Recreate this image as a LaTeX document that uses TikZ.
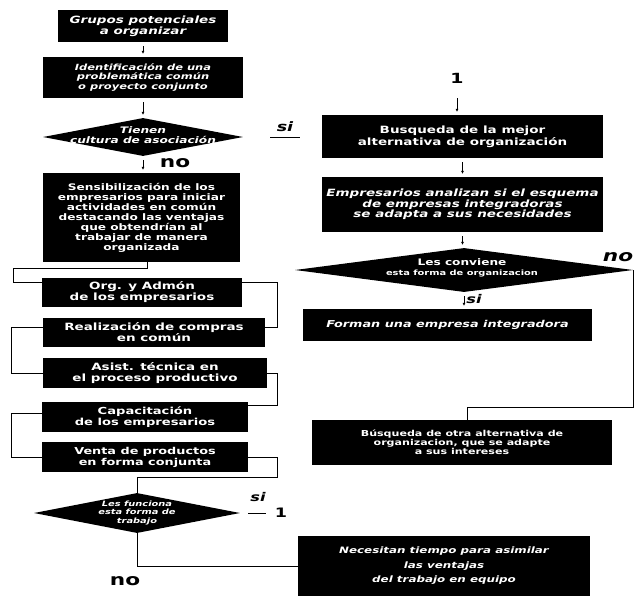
\documentclass[tikz,border=0pt]{standalone}
\usepackage{fontspec}
\setmainfont{DejaVu Sans}[FakeStretch=1.35]
\usetikzlibrary{shapes.geometric,arrows.meta,calc}
\newcommand{\fsz}[2]{\fontsize{#1}{#2}\selectfont\bfseries}
\begin{document}
\begin{tikzpicture}[x=1pt,y=-1pt,
  blk/.style={fill=black,text=white,inner sep=0pt,align=center},
  dia/.style={diamond,fill=black,inner sep=0pt},
  dtxt/.style={text=white,align=center,inner sep=0pt},
  lbl/.style={inner sep=0pt,font=\fsz{16}{16}},
  slbl/.style={inner sep=0pt,font=\fsz{12}{12}\itshape},
  lnk/.style={line width=0.7pt},
  sarr/.style={line width=0.6pt,-{Latex[length=3pt,width=3pt]},shorten <=4pt,shorten >=3pt}]
\useasboundingbox (0,0) rectangle (636,597);
\fill[white] (0,0) rectangle (636,597);
% left column
\node[blk,minimum width=170pt,minimum height=32pt,font=\fsz{10}{11}\itshape] (b1) at (143,26) {Grupos potenciales\\a organizar};
\node[blk,minimum width=200pt,minimum height=41pt,font=\fsz{8.5}{9.5}\itshape] (b2) at (143,77.5) {Identificación de una\\problemática común\\o proyecto conjunto};
\node[dia,minimum width=200pt,minimum height=38pt] (d1) at (143,137) {};
\node[dtxt,font=\fsz{9}{10}\itshape] (d1t) at (143,135) {Tienen\\cultura de asociación};
\node[blk,minimum width=197pt,minimum height=89pt,font=\fsz{9}{10}] (sens) at (141.5,217.5) {Sensibilización de los\\empresarios para iniciar\\actividades en común\\destacando las ventajas\\que obtendrían al\\trabajar de manera\\organizada};
\node[blk,minimum width=200pt,minimum height=29pt,font=\fsz{10}{11}] (org) at (142,292.5) {Org. y Admón\\de los empresarios};
\node[blk,minimum width=222pt,minimum height=29pt,font=\fsz{10}{11}] (real) at (154,332.5) {Realización de compras\\en común};
\node[blk,minimum width=224pt,minimum height=30pt,font=\fsz{10}{11}] (asist) at (155,373) {Asist. técnica en\\el proceso productivo};
\node[blk,minimum width=206pt,minimum height=30pt,font=\fsz{9.7}{11}] (cap) at (145,417) {Capacitación\\de los empresarios};
\node[blk,minimum width=206pt,minimum height=30pt,font=\fsz{9.5}{11}] (venta) at (145,457) {Venta de productos\\en forma conjunta};
\node[dia,minimum width=206pt,minimum height=40pt] (d2) at (137,513) {};
\node[dtxt,font=\fsz{7.3}{8.3}\itshape] (d2t) at (137,513) {Les funciona\\esta forma de\\trabajo};
% right column
\node[inner sep=0pt,font=\fsz{14}{14}] (one1) at (457,78) {1};
\node[blk,minimum width=281pt,minimum height=43pt,font=\fsz{10}{12}] (bm) at (462.5,136.5) {Busqueda de la mejor\\alternativa de organización};
\node[blk,minimum width=281pt,minimum height=55pt,font=\fsz{10}{10.5}\itshape] (emp) at (462.5,204.5) {Empresarios analizan si el esquema\\de empresas integradoras\\se adapta a sus necesidades};
\node[dia,minimum width=338pt,minimum height=44pt] (d3) at (464,270) {};
\node[dtxt,font=\fsz{7.3}{9.5}] (d3t) at (462,268) {{\fontsize{9}{9.5}\selectfont Les conviene}\\esta forma de organizacion};
\node[blk,minimum width=289pt,minimum height=32pt,font=\fsz{9.5}{11}\itshape] (forman) at (447.5,325) {Forman una empresa integradora};
\node[blk,minimum width=300pt,minimum height=45pt,font=\fsz{8.2}{8.8}] (bo) at (462,442.5) {Búsqueda de otra alternativa de\\organizacion, que se adapte\\a sus intereses};
\node[blk,minimum width=292pt,minimum height=60pt,font=\fsz{8.8}{14.5}\itshape] (nec) at (444,566) {Necesitan tiempo para asimilar\\las ventajas\\del trabajo en equipo};
% labels
\node[lbl] (no1) at (175,163) {no};
\node[lbl] (no2) at (125,581) {no};
\node[lbl,font=\fsz{16}{16}\itshape] (no3) at (618,257) {no};
\node[slbl,font=\fsz{13}{13}\itshape] (si1) at (285,127) {si};
\node[slbl] (si2) at (258,497) {si};
\node[slbl] (si3) at (474,299) {si};
\node[inner sep=0pt,font=\fsz{13}{13}] (one2) at (281,513) {1};
% short arrows
\draw[sarr] (b1.south) -- (b2.north);
\draw[sarr] (b2.south) -- (d1.north);
\draw[sarr] (d1.south) -- (d1.south|-sens.north);
\draw[sarr,shorten <=15pt] (one1.south) -- (one1.south|-bm.north);
\draw[sarr] (bm.south) -- (bm.south|-emp.north);
\draw[sarr] (emp.south) -- (emp.south|-d3.north);
\draw[sarr] (d3.south) -- (d3.south|-forman.north);
% si branch stubs
\coordinate (s1a) at (270,137);
\coordinate (s1b) at (300,137);
\draw[lnk] (s1a) -- (s1b);
\coordinate (s2a) at ($(d2.east)+(8,0)$);
\coordinate (s2b) at ($(d2.east)+(26,0)$);
\draw[lnk] (s2a) -- (s2b);
% brackets
\coordinate (lb1) at (13,268);
\draw[lnk] ([xshift=6pt]sens.south) |- (lb1) |- ([yshift=10pt]org.west);
\draw[lnk] ([yshift=10pt]org.east) -| ([xshift=12pt,yshift=5pt]real.east) -- ([yshift=5pt]real.east);
\draw[lnk] ([yshift=5pt]real.west) -| ([xshift=-31pt]asist.west) -- (asist.west);
\draw[lnk] (asist.east) -| ([xshift=29pt,yshift=12pt]cap.east) -- ([yshift=12pt]cap.east);
\draw[lnk] ([yshift=4pt]cap.west) -| ([xshift=-30pt]venta.west) -- (venta.west);
\coordinate (vc) at (277,477);
\draw[lnk] (venta.east) -| (vc) -| (d2.north);
\draw[lnk] (d2.south) |- (nec.west);
\coordinate (rc) at (633,407);
\draw[lnk] (d3.east) -| (rc) -| ([xshift=5pt]bo.north);
\end{tikzpicture}
\end{document}
